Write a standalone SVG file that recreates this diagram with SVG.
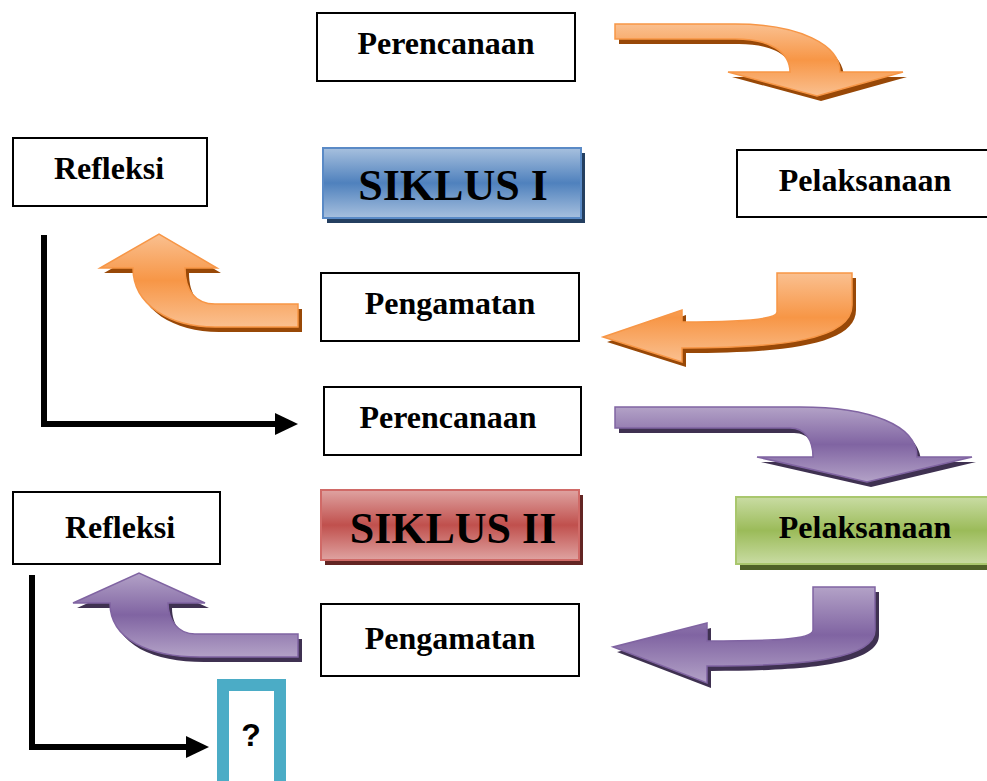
<svg xmlns="http://www.w3.org/2000/svg" width="987" height="781" viewBox="0 0 987 781">
<style>
.box{fill:#fff;stroke:#000;stroke-width:2}
.t{font-family:"Liberation Serif","Times New Roman",serif;font-weight:bold;font-size:32px;text-anchor:middle;fill:#000}
.big{font-size:44px}
.q{font-family:"Liberation Sans",Arial,sans-serif;font-weight:bold;font-size:32px;text-anchor:middle;fill:#000}
.conn{fill:none;stroke:#000;stroke-width:6}
.osh{fill:#984807}
.psh{fill:#3f3151}
.or{fill:url(#og);stroke:#f79646;stroke-width:1.5}
.pu{fill:url(#pg);stroke:#8064a2;stroke-width:1.5}
</style>
<defs>
<linearGradient id="og" x1="0" y1="0" x2="0" y2="1">
<stop offset="0" stop-color="#fac090"/><stop offset="0.5" stop-color="#f79646"/><stop offset="1" stop-color="#fac090"/>
</linearGradient>
<linearGradient id="pg" x1="0" y1="0" x2="0" y2="1">
<stop offset="0" stop-color="#b3a2c7"/><stop offset="0.5" stop-color="#8064a2"/><stop offset="1" stop-color="#b3a2c7"/>
</linearGradient>
<linearGradient id="bg" x1="0" y1="0" x2="0" y2="1">
<stop offset="0" stop-color="#a7c0de"/><stop offset="0.5" stop-color="#4f81bd"/><stop offset="1" stop-color="#a7c0de"/>
</linearGradient>
<linearGradient id="rg" x1="0" y1="0" x2="0" y2="1">
<stop offset="0" stop-color="#dfa3a1"/><stop offset="0.5" stop-color="#c0504d"/><stop offset="1" stop-color="#dfa3a1"/>
</linearGradient>
<linearGradient id="gg" x1="0" y1="0" x2="0" y2="1">
<stop offset="0" stop-color="#c9dca3"/><stop offset="0.5" stop-color="#9bbb59"/><stop offset="1" stop-color="#c9dca3"/>
</linearGradient>
</defs>

<g id="connectors">
<path class="conn" d="M44,235 L44,424 L276,424"/>
<polygon points="275,413 298,424 275,435" fill="#000"/>
<path class="conn" d="M32,575 L32,747 L187,747"/>
<polygon points="186,736 209,747 186,758" fill="#000"/>

<g id="arrow-o1">
<path class="osh" transform="translate(4,5)" d="M615,24 L735,24 C800,24 840,45 840,72 L903,72 L817,96 L728,72 L790,72 C790,52 770,39 735,39 L615,39 Z"/>
<path class="or" d="M615,24 L735,24 C800,24 840,45 840,72 L903,72 L817,96 L728,72 L790,72 C790,52 770,39 735,39 L615,39 Z"/>
</g>
<g id="arrow-o2">
<path class="osh" transform="translate(4,5)" d="M852,273 L852,305 C852,340 780,348 682,348 L682,362 L603,337 L682,310 L682,322 C740,322 777,320 777,312 L777,273 Z"/>
<path class="or" d="M852,273 L852,305 C852,340 780,348 682,348 L682,362 L603,337 L682,310 L682,322 C740,322 777,320 777,312 L777,273 Z"/>
</g>
<g id="arrow-o3">
<path class="osh" transform="translate(4,5)" d="M298,304 L215,304 C195,304 185,290 185,268 L217,268 L159,234 L100,268 L133,268 C133,305 170,327 215,327 L298,327 Z"/>
<path class="or" d="M298,304 L215,304 C195,304 185,290 185,268 L217,268 L159,234 L100,268 L133,268 C133,305 170,327 215,327 L298,327 Z"/>
</g>
<g id="arrow-p1">
<path class="psh" transform="translate(4,5)" d="M615,407 L800,407 C870,407 917,425 917,457 L972,457 L867,482 L757,457 L813,457 C813,440 805,428 790,428 L615,428 Z"/>
<path class="pu" d="M615,407 L800,407 C870,407 917,425 917,457 L972,457 L867,482 L757,457 L813,457 C813,440 805,428 790,428 L615,428 Z"/>
</g>
<g id="arrow-p2">
<path class="psh" transform="translate(4,5)" d="M875,587 L875,630 C875,658 810,666 707,666 L707,683 L613,647 L707,623 L707,641 C770,641 813,640 813,630 L813,587 Z"/>
<path class="pu" d="M875,587 L875,630 C875,658 810,666 707,666 L707,683 L613,647 L707,623 L707,641 C770,641 813,640 813,630 L813,587 Z"/>
</g>
<g id="arrow-p3">
<path class="psh" transform="translate(4,5)" d="M298,634 L195,634 C178,634 168,620 168,603 L205,603 L139,573 L73,603 L110,603 C110,640 150,657 200,657 L298,657 Z"/>
<path class="pu" d="M298,634 L195,634 C178,634 168,620 168,603 L205,603 L139,573 L73,603 L110,603 C110,640 150,657 200,657 L298,657 Z"/>
</g>
</g>

<g id="perencanaan1"><rect class="box" x="317" y="13" width="258" height="68"/><text class="t" x="446" y="54">Perencanaan</text></g>
<g id="refleksi1"><rect class="box" x="13" y="138" width="194" height="68"/><text class="t" x="109" y="179">Refleksi</text></g>
<g id="siklus1"><rect x="327" y="153" width="258" height="70" fill="#243f60"/><rect x="323" y="148" width="258" height="70" fill="url(#bg)" stroke="#5a8ac6" stroke-width="2"/><text class="t big" x="453" y="200">SIKLUS I</text></g>
<g id="pelaksanaan1"><rect class="box" x="737" y="150" width="260" height="67"/><text class="t" x="865" y="191">Pelaksanaan</text></g>
<g id="pengamatan1"><rect class="box" x="321" y="273" width="258" height="68"/><text class="t" x="450" y="314">Pengamatan</text></g>
<g id="perencanaan2"><rect class="box" x="324" y="387" width="257" height="68"/><text class="t" x="448" y="428">Perencanaan</text></g>
<g id="refleksi2"><rect class="box" x="13" y="492" width="207" height="72"/><text class="t" x="120" y="538">Refleksi</text></g>
<g id="siklus2"><rect x="325" y="495" width="258" height="70" fill="#632523"/><rect x="321" y="490" width="258" height="70" fill="url(#rg)" stroke="#d06a67" stroke-width="2"/><text class="t big" x="453" y="543">SIKLUS II</text></g>
<g id="pelaksanaan2"><rect x="740" y="502" width="260" height="68" fill="#4f6228"/><rect x="736" y="497" width="260" height="67" fill="url(#gg)" stroke="#a9c76d" stroke-width="2"/><text class="t" x="865" y="538">Pelaksanaan</text></g>
<g id="pengamatan2"><rect class="box" x="321" y="604" width="258" height="72"/><text class="t" x="450" y="649">Pengamatan</text></g>
<g id="question"><rect x="223" y="685" width="57" height="110" fill="#fff" stroke="#4bacc6" stroke-width="12"/><text class="q" x="251" y="746">?</text></g>
</svg>
